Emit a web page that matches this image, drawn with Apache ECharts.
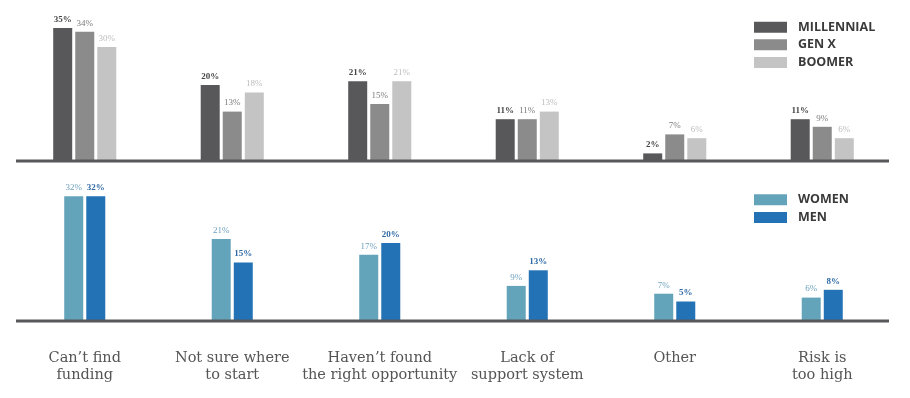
<!DOCTYPE html>
<html><head><meta charset="utf-8">
<script src="https://cdn.jsdelivr.net/npm/echarts@6/dist/echarts.min.js"></script>
<style>html,body{margin:0;padding:0;background:#fff}#c{width:910px;height:398px}</style>
</head><body><div id="c"></div>
<script>
const categories = ["Can’t find\nfunding", "Not sure where\nto start", "Haven’t found\nthe right opportunity", "Lack of\nsupport system", "Other", "Risk is\ntoo high"];
const millennial = [35, 20, 21, 11, 2, 11];
const genX = [34, 13, 15, 11, 7, 9];
const boomer = [30, 18, 21, 13, 6, 6];
const women = [32, 21, 17, 9, 7, 6];
const men = [32, 15, 20, 13, 5, 8];

const chart = echarts.init(document.getElementById('c'), null, {renderer: 'canvas'});
const lbl = (color, weight) => ({show: true, position: 'top', distance: 4, formatter: '{c}%', color: color, fontFamily: 'Liberation Serif', fontSize: 9, fontWeight: weight});
const bar = (name, data, color, g, labelColor, weight) => ({
  name: name, type: 'bar', data: data, xAxisIndex: g, yAxisIndex: g,
  barWidth: 19, barGap: '16%', itemStyle: {color: color},
  label: lbl(labelColor, weight), emphasis: {disabled: true}
});
const legendCommon = {
  orient: 'vertical', left: 754, padding: 0, itemWidth: 33, itemHeight: 11, itemGap: 4.6,
  icon: 'rect', selectedMode: false,
  textStyle: {fontFamily: 'Open Sans', fontWeight: 700, fontSize: 12.5, color: '#3a3a3a', lineHeight: 11, padding: [0, 0, 0, 6]}
};
chart.setOption({
  animation: false,
  grid: [
    {left: 11, right: 14, top: 9, bottom: 237},
    {left: 11, right: 14, top: 165, bottom: 77}
  ],
  xAxis: [
    {type: 'category', gridIndex: 0, data: categories, axisLine: {show: false}, axisTick: {show: false}, axisLabel: {show: false}},
    {type: 'category', gridIndex: 1, data: categories, axisLine: {show: false}, axisTick: {show: false},
     axisLabel: {margin: 28.5, fontFamily: 'DejaVu Serif', fontSize: 14.5, lineHeight: 17, color: '#555555', interval: 0}}
  ],
  yAxis: [
    {type: 'value', gridIndex: 0, min: 0, max: 40, show: false, splitLine: {show: false}},
    {type: 'value', gridIndex: 1, min: 0, max: 40, show: false, splitLine: {show: false}}
  ],
  legend: [
    Object.assign({}, legendCommon, {top: 20.7, data: ['MILLENNIAL', 'GEN X', 'BOOMER']}),
    Object.assign({}, legendCommon, {top: 193.3, data: ['WOMEN', 'MEN']})
  ],
  graphic: [
    {type: 'line', shape: {x1: 16, y1: 161, x2: 889, y2: 161}, style: {stroke: '#58585a', lineWidth: 3}, z: 10},
    {type: 'line', shape: {x1: 16, y1: 321, x2: 889, y2: 321}, style: {stroke: '#58585a', lineWidth: 3}, z: 10}
  ],
  series: [
    bar('MILLENNIAL', millennial, '#58585b', 0, '#474747', 'bold'),
    bar('GEN X', genX, '#8b8b8b', 0, '#7a7a7a', 'normal'),
    bar('BOOMER', boomer, '#c4c4c4', 0, '#bcbcbc', 'normal'),
    bar('WOMEN', women, '#64a4bb', 1, '#6b9fbd', 'normal'),
    bar('MEN', men, '#2372b6', 1, '#2f6aa6', 'bold')
  ]
});
</script></body></html>
